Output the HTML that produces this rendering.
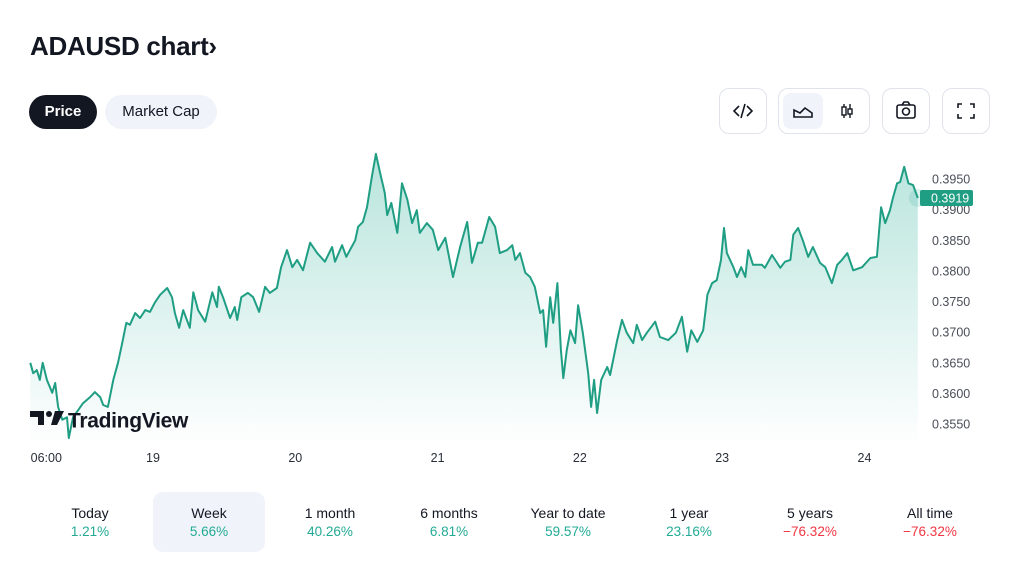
<!DOCTYPE html>
<html><head><meta charset="utf-8">
<style>
body{margin:0;width:1024px;height:576px;background:#fff;font-family:"Liberation Sans","DejaVu Sans",sans-serif;overflow:hidden;position:relative;color:#131722}
.abs{position:absolute}
h1{position:absolute;left:30px;top:31px;margin:0;font-size:26px;font-weight:bold;letter-spacing:-0.3px}
.pill{position:absolute;top:95px;height:34px;line-height:34px;border-radius:17px;font-size:15px;text-align:center}
.ib{position:absolute;top:88px;height:46px;border:1px solid #e0e3eb;border-radius:10px;box-sizing:border-box;background:#fff}
.tab{position:absolute;top:492px;width:112px;height:60px;text-align:center;font-size:14px;border-radius:10px}
.tab .l{margin-top:13px;color:#131722}
.tab .v{margin-top:3px;font-size:13.5px}
.g{color:#22ab94}.r{color:#f23645}
</style></head><body>
<h1>ADAUSD chart›</h1>
<div class="pill" style="left:29px;width:68px;background:#131722;color:#fff;font-weight:bold">Price</div>
<div class="pill" style="left:105px;width:112px;background:#f0f3fa;color:#131722">Market Cap</div>

<div class="ib" style="left:719px;width:48px">
<svg width="46" height="44" viewBox="0 0 46 44"><path d="M19 17l-5 5 5 5M27 17l5 5-5 5M25 15l-4 14" fill="none" stroke="#131722" stroke-width="1.6"/></svg></div>
<div class="ib" style="left:778px;width:92px">
<div class="abs" style="left:4px;top:4px;width:40px;height:36px;background:#f0f3fa;border-radius:8px">
<svg width="40" height="36"><path d="M11 24V17l6 3 5-5 7 5v4z" fill="none" stroke="#131722" stroke-width="1.6"/></svg></div>
<div class="abs" style="left:48px;top:4px;width:40px;height:36px">
<svg width="40" height="36"><path d="M17 11v14M23 11v14" stroke="#131722" stroke-width="1.4"/><rect x="15" y="14" width="4" height="8" fill="#fff" stroke="#131722" stroke-width="1.4"/><rect x="21" y="16" width="4" height="5" fill="#fff" stroke="#131722" stroke-width="1.4"/></svg></div>
</div>
<div class="ib" style="left:882px;width:48px">
<svg width="46" height="44"><rect x="14" y="16" width="18" height="13" rx="2" fill="none" stroke="#131722" stroke-width="1.6"/><path d="M19 16l2-3h4l2 3" fill="none" stroke="#131722" stroke-width="1.6"/><circle cx="23" cy="22.5" r="3.5" fill="none" stroke="#131722" stroke-width="1.6"/></svg></div>
<div class="ib" style="left:942px;width:48px">
<svg width="46" height="44"><path d="M15 19v-4h4M27 15h4v4M31 25v4h-4M19 29h-4v-4" fill="none" stroke="#131722" stroke-width="1.6"/></svg></div>

<svg id="chart" class="abs" style="left:0;top:140px" width="1024" height="340">
<defs><linearGradient id="gf" x1="0" y1="0" x2="0" y2="1"><stop offset="0" stop-color="#22ab94" stop-opacity="0.32"/><stop offset="1" stop-color="#22ab94" stop-opacity="0.01"/></linearGradient></defs>
</svg>

<div class="abs" style="left:30px;top:409px;height:26px;font-size:21px;font-weight:bold;color:#131722;letter-spacing:-0.3px">
<span style="display:inline-block;width:38px;vertical-align:middle"><svg width="36" height="18"><path d="M0 2h14v14h-6V8H0z" fill="#131722"/><circle cx="19" cy="5" r="3" fill="#131722"/><path d="M25 2h9l-7 14h-6z" fill="#131722"/></svg></span><span style="vertical-align:middle">TradingView</span></div>

<div class="tab" style="left:34px"><div class="l">Today</div><div class="v g">1.21%</div></div>
<div class="tab" style="left:153px;background:#f0f3fa"><div class="l">Week</div><div class="v g">5.66%</div></div>
<div class="tab" style="left:274px"><div class="l">1 month</div><div class="v g">40.26%</div></div>
<div class="tab" style="left:393px"><div class="l">6 months</div><div class="v g">6.81%</div></div>
<div class="tab" style="left:512px"><div class="l">Year to date</div><div class="v g">59.57%</div></div>
<div class="tab" style="left:633px"><div class="l">1 year</div><div class="v g">23.16%</div></div>
<div class="tab" style="left:754px"><div class="l">5 years</div><div class="v r">−76.32%</div></div>
<div class="tab" style="left:874px"><div class="l">All time</div><div class="v r">−76.32%</div></div>

<script>
// hours since day 18 00:00
const hours=[3.3,3.8,4.4,4.9,5.4,6.1,7.0,7.5,8.0,8.7,9.5,9.8,10.5,11.4,12.2,13.4,14.2,15.1,15.6,16.4,17.3,18.1,18.8,19.5,20.1,21.0,21.8,22.7,23.5,24.3,25.2,26.4,27.2,27.7,28.4,29.1,30.2,30.8,31.6,32.8,34.0,34.8,35.1,35.8,37.0,37.8,38.2,38.9,40.0,40.9,41.9,42.9,43.7,44.9,45.6,46.6,47.5,48.3,49.3,50.5,51.7,53.0,54.2,54.7,55.9,56.6,58.1,58.6,59.4,60.1,60.9,61.6,62.3,63.1,63.5,64.2,65.2,66.0,66.9,67.7,68.5,69.0,70.2,71.2,72.1,73.3,74.6,75.8,77.0,77.8,78.8,
79.5,80.7,81.7,82.5,83.7,84.6,85.1,85.9,86.8,87.6,88.4,89.3,89.8,90.3,91.0,91.5,92.2,92.8,93.2,93.8,94.4,95.2,95.7,96.5,97.4,97.9,98.4,98.9,99.6,100.6,101.1,102.3,103.1,103.9,105.0,105.6,106.5,107.3,108.7,109.5,110.9,112.2,113.2,114.1,114.8,115.8,116.8,117.5,118.3,119.1,119.8,120.3,120.8,121.9,122.5,123.2,123.9,124.4,125.2,126.7,127.2,128.4,129.8,130.6,131.5,132.0,132.8,133.6,134.5,135.3,136.5,137.4,138.5,139.4,140.2,141.1,142.1,143.6,145.0,146.1,146.8,147.5,148.3,148.8,149.5,150.0,150.7,151.4,152.2,153.0];
const prices=[0.3650,0.3633,0.3638,0.3622,0.3650,0.3622,0.3601,0.3617,0.3578,0.3557,0.3561,0.3527,0.3561,0.3573,0.3584,0.3594,0.3602,0.3594,0.3581,0.3578,0.3622,0.3650,0.3682,0.3715,0.3712,0.3731,0.3723,0.3736,0.3733,0.3748,0.3761,0.3772,0.3757,0.3731,0.3707,0.3736,0.3707,0.3765,0.3736,0.3717,0.3765,0.3741,0.3774,0.3757,0.3723,0.3741,0.3720,0.3757,0.3764,0.3757,0.3733,0.3774,0.3764,0.3772,0.3806,0.3834,0.3806,0.3818,0.3801,0.3846,0.3829,0.3815,0.3839,0.3815,0.3842,0.3823,0.3850,0.3872,0.3880,0.3904,0.3953,0.3991,0.3960,0.3927,0.3891,0.3911,0.3862,0.3943,0.3916,0.3878,0.3899,0.3862,0.3878,0.3867,0.3834,0.3854,0.3790,0.3839,0.3880,0.3813,0.3846,
0.3846,0.3888,0.3872,0.3829,0.3834,0.3842,0.3818,0.3829,0.3797,0.3790,0.3774,0.3731,0.3736,0.3676,0.3757,0.3715,0.3780,0.3671,0.3625,0.3671,0.3703,0.3682,0.3744,0.3699,0.3633,0.3578,0.3622,0.3568,0.3622,0.3643,0.3630,0.3687,0.3720,0.3699,0.3682,0.3712,0.3687,0.3699,0.3717,0.3692,0.3687,0.3699,0.3725,0.3668,0.3703,0.3684,0.3703,0.3761,0.3780,0.3785,0.3818,0.3870,0.3829,0.3806,0.3790,0.3806,0.3790,0.3834,0.3810,0.3810,0.3805,0.3826,0.3805,0.3815,0.3818,0.3859,0.3870,0.3850,0.3823,0.3839,0.3813,0.3806,0.3780,0.3810,0.3818,0.3829,0.3801,0.3806,0.3821,0.3823,0.3904,0.3878,0.3899,0.3919,0.3943,0.3945,0.3970,0.3943,0.3940,0.3919];
const yTicks=[0.3950,0.3900,0.3850,0.3800,0.3750,0.3700,0.3650,0.3600,0.3550];
const xTickHours=[6,24,48,72,96,120,144];
const xTickLabels=["06:00","19","20","21","22","23","24"];
const lastPrice=0.3919;

const OY=140;
function X(h){return 10.7+h*5.929;}
function Y(v){return 179+(0.395-v)*6125-OY;}
const svg=document.getElementById('chart');
const NS='http://www.w3.org/2000/svg';
function mk(t,a){const e=document.createElementNS(NS,t);for(const k in a)e.setAttribute(k,a[k]);svg.appendChild(e);return e;}
let d='';
for(let i=0;i<hours.length;i++)d+=(i?'L':'M')+X(hours[i]).toFixed(1)+' '+Y(prices[i]).toFixed(1);
const bottom=440-OY;
const area=mk('path',{d:d+'L'+X(hours[hours.length-1]).toFixed(1)+' '+bottom+'L'+X(hours[0]).toFixed(1)+' '+bottom+'Z',fill:'url(#gf)'});


const line=mk('path',{d:d,fill:'none',stroke:'#1f9e84','stroke-width':2,'stroke-linejoin':'round'});


yTicks.forEach(v=>{
 const t=mk('text',{x:932,y:Y(v)+4.5,'font-size':12.5,fill:'#4a4e58','font-family':'Liberation Sans, sans-serif'});
 t.textContent=v.toFixed(4);
 
 
});
xTickHours.forEach((h,i)=>{
 const t=mk('text',{x:X(h),y:462-OY,'font-size':12.5,fill:'#2a2e39','text-anchor':'middle','font-family':'Liberation Sans, sans-serif'});
 t.textContent=xTickLabels[i];
 
 
});
const lx=X(hours[hours.length-1]),ly=Y(lastPrice);
const ring=mk('circle',{cx:lx,cy:ly,r:9,fill:'#22ab94','fill-opacity':0.15});


const tag=mk('rect',{x:920,y:ly-8,width:53,height:16,rx:2,fill:'#1f9e83'});


const tt=mk('text',{x:931,y:ly+4.5,'font-size':12.5,fill:'#fff','font-family':'Liberation Sans, sans-serif'});
tt.textContent=lastPrice.toFixed(4);


</script>
</body></html>
